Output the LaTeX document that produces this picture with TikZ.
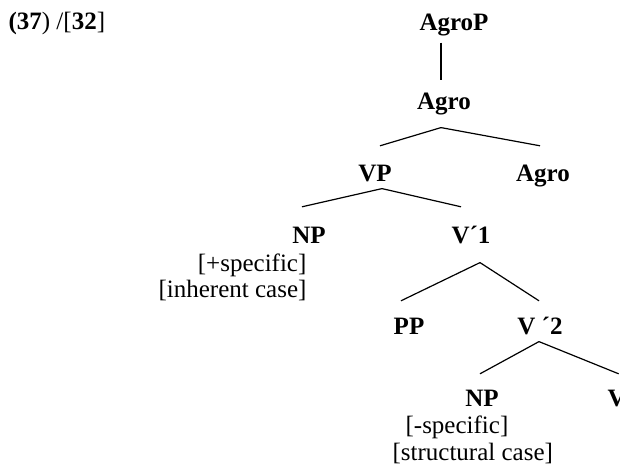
\documentclass[tikz,border=0pt]{standalone}
\usepackage{fontspec}
\setmainfont{Liberation Serif}

\begin{document}
\begin{tikzpicture}[x=0.5pt, y=-0.5pt, line width=0.6pt,
  every node/.style={inner sep=0pt, font=\fontsize{12.5pt}{15pt}\selectfont},
  cat/.style={font=\fontsize{12.5pt}{15pt}\selectfont\bfseries, text height=8.3pt, text depth=0pt, anchor=base},
  feat/.style={anchor=base west}]
\useasboundingbox (0,0) rectangle (620,470);
% Label
\node[anchor=base west] (title) at (8,30) {\textbf{(37}) /[\textbf{32}]};
% Categories
\node[cat] (agrop) at (454,31) {AgroP};
\node[cat] (agro) at (444,110) {Agro};
\node[cat] (vp) at (375,182) {VP};
\node[cat] (agro2) at (543,182) {Agro};
\node[cat] (np1) at (309,243) {NP};
\node[cat] (v1) at (471,243) {V´1};
\node[cat] (pp) at (409,334) {PP};
\node[cat] (v2) at (540,334) {V ´2};
\node[cat] (np2) at (482,406) {NP};
\node[cat, anchor=base west] (vlast) at (607,406) {V};
% Features
\node[anchor=base east] (spec1) at (307,271) {[+specific]};
\node[anchor=base east] (case1) at (307,297) {[inherent case]};
\node[feat] (spec2) at (405,433) {[-specific]};
\node[feat] (case2) at (392,460) {[structural case]};
% Branches
\draw ([shift={(-13,11)}]agrop.south) -- ([shift={(-3,-13)}]agro.north);
\draw ([shift={(-3,17)}]agro.south) -- ([shift={(5,-19)}]vp.north);
\draw ([shift={(-3,17)}]agro.south) -- ([shift={(-3,-19)}]agro2.north);
\draw ([shift={(7,6)}]vp.south) -- ([shift={(-7,-19)}]np1.north);
\draw ([shift={(7,6)}]vp.south) -- ([shift={(-10,-19)}]v1.north);
\draw ([shift={(9,19)}]v1.south) -- ([shift={(-8,-16)}]pp.north);
\draw ([shift={(9,19)}]v1.south) -- ([shift={(-1,-16)}]v2.north);
\draw ([shift={(-1,7)}]v2.south) -- ([shift={(-2,-15)}]np2.north);
\draw ([shift={(-1,7)}]v2.south) -- ([shift={(2,-15)}]vlast.north);
\end{tikzpicture}
\end{document}
